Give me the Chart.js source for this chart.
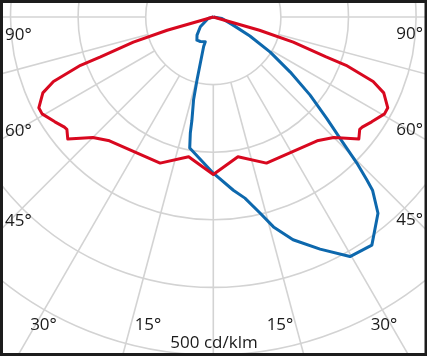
<!DOCTYPE html>
<html>
<head>
<meta charset="utf-8">
<script src="https://cdn.jsdelivr.net/npm/chart.js@4"></script>
<style>
  html, body { margin: 0; padding: 0; background: #fff; }
  canvas { display: block; }
</style>
</head>
<body>
<canvas id="c" width="427" height="356"></canvas>
<script>
// ---- data (angle in degrees from nadir, negative = left; intensity in cd/klm) ----
const redAngles = [-90, -74, -72.5, -70.5, -70, -68, -66, -62.5, -60.5, -56.5, -53.5, -52.5, -50, -45, -40, -20, -10, 0,
                   10, 20, 40, 45, 50, 52.5, 53.5, 56.5, 60.5, 62.5, 66, 68, 70, 70.5, 72.5, 74, 90];
const redValues = [0, 71, 124, 177, 209, 255, 276, 291, 291, 281, 274, 273, 281, 252, 239, 230, 210, 233,
                   210, 230, 239, 252, 281, 273, 274, 281, 291, 291, 276, 255, 209, 177, 124, 71, 0];

const blueAngles = [-90, -75, -53, -42, -35.3, -27.8, -17.9, -18.1, -15.7, -14.5, -13.4, -11.7, -11.2, -10.2, 0,
                    6.6, 9.9, 13.4, 16, 19.7, 24.7, 29.7, 34.8, 40, 42.6, 43.3, 44.5, 45.9, 48.2, 51.1, 54.4, 58.3, 62.6, 67.9, 80.2, 90];
const blueValues = [0, 8, 24, 36, 42, 41, 38.5, 46, 71, 96, 126, 156, 175, 197, 231,
                    258, 272, 298, 323, 350, 378, 408, 411, 379, 348, 331, 303, 267, 225, 184, 140, 99, 61, 31, 13, 0];

const ringValues = [100, 200, 300, 400, 500];
const spokeAngles = [-180, -165, -150, -135, -120, -105, -90, -75, -60, -45, -30, -15, 0,
                     15, 30, 45, 60, 75, 90, 105, 120, 135, 150, 165];
const angleLabels = ['90°', '60°', '45°', '30°', '15°'];
const unitLabel = '500 cd/klm';

// ---- helpers ----
function toPoints(angles, values) {
  return angles.map((a, i) => {
    const r = a * Math.PI / 180;
    return { x: values[i] * Math.sin(r), y: -values[i] * Math.cos(r) };
  });
}

// geometry of the view (pixel layout)
const W = 427, H = 356;
const K = 0.676;           // px per cd/klm
const CX = 213.3, CY = 17; // pole position in px

const FONT = '17px "Open Sans", "Noto Sans", sans-serif';

const polarGrid = {
  id: 'polarGrid',
  beforeDraw(chart) {
    const ctx = chart.ctx;
    ctx.save();
    ctx.fillStyle = '#ffffff';
    ctx.fillRect(0, 0, chart.width, chart.height);
    ctx.restore();
  },
  beforeDatasetsDraw(chart) {
    const { ctx, scales: { x, y } } = chart;
    const cx = x.getPixelForValue(0), cy = y.getPixelForValue(0);
    const px = v => x.getPixelForValue(v) - cx;
    ctx.save();
    ctx.strokeStyle = '#d3d3d3';
    ctx.lineWidth = 1.6;
    ringValues.forEach(v => {
      ctx.beginPath();
      ctx.arc(cx, cy, px(v), 0, Math.PI * 2);
      ctx.stroke();
    });
    const r0 = px(ringValues[0]), r1 = px(800);
    spokeAngles.forEach(a => {
      const t = a * Math.PI / 180;
      const dx = Math.sin(t), dy = Math.cos(t);
      ctx.beginPath();
      ctx.moveTo(cx + dx * r0, cy + dy * r0);
      ctx.lineTo(cx + dx * r1, cy + dy * r1);
      ctx.stroke();
    });
    ctx.restore();
  },
  afterDraw(chart) {
    const ctx = chart.ctx;
    ctx.save();
    ctx.font = FONT;
    ctx.fillStyle = '#1a1a1a';
    ctx.textBaseline = 'middle';
    // side labels
    const side = [[angleLabels[0], 35], [angleLabels[1], 131], [angleLabels[2], 221]];
    side.forEach(([t, yy]) => {
      ctx.textAlign = 'left';  ctx.fillText(t, 5, yy);
      ctx.textAlign = 'right'; ctx.fillText(t, 423, yy - 1);
    });
    // bottom labels
    ctx.textAlign = 'center';
    ctx.fillText(angleLabels[3], 43.5, 325);
    ctx.fillText(angleLabels[4], 148, 325);
    ctx.fillText(angleLabels[4], 280, 325);
    ctx.fillText(angleLabels[3], 384, 325);
    ctx.fillText(unitLabel, 214, 343);
    // frame
    ctx.fillStyle = '#1c1c1c';
    ctx.fillRect(0, 0, W, 3);
    ctx.fillRect(0, H - 3, W, 3);
    ctx.fillRect(0, 0, 3, H);
    ctx.fillRect(W - 2.5, 0, 2.5, H);
    ctx.restore();
  }
};

new Chart(document.getElementById('c'), {
  type: 'scatter',
  data: {
    datasets: [
      {
        label: 'C0-C180',
        data: toPoints(redAngles, redValues),
        showLine: true,
        borderColor: '#d8081f',
        borderWidth: 3,
        pointRadius: 0,
        tension: 0,
        borderJoinStyle: 'round'
      },
      {
        label: 'C90-C270',
        data: toPoints(blueAngles, blueValues),
        showLine: true,
        borderColor: '#0d68ad',
        borderWidth: 3,
        pointRadius: 0,
        tension: 0,
        borderJoinStyle: 'round'
      }
    ]
  },
  options: {
    responsive: false,
    animation: false,
    devicePixelRatio: 1,
    layout: { padding: 0, autoPadding: false },
    plugins: { legend: { display: false }, tooltip: { enabled: false } },
    scales: {
      x: { type: 'linear', display: false, min: -CX / K, max: (W - CX) / K },
      y: { type: 'linear', display: false, min: -(H - CY) / K, max: CY / K }
    }
  },
  plugins: [polarGrid]
});
</script>
</body>
</html>
